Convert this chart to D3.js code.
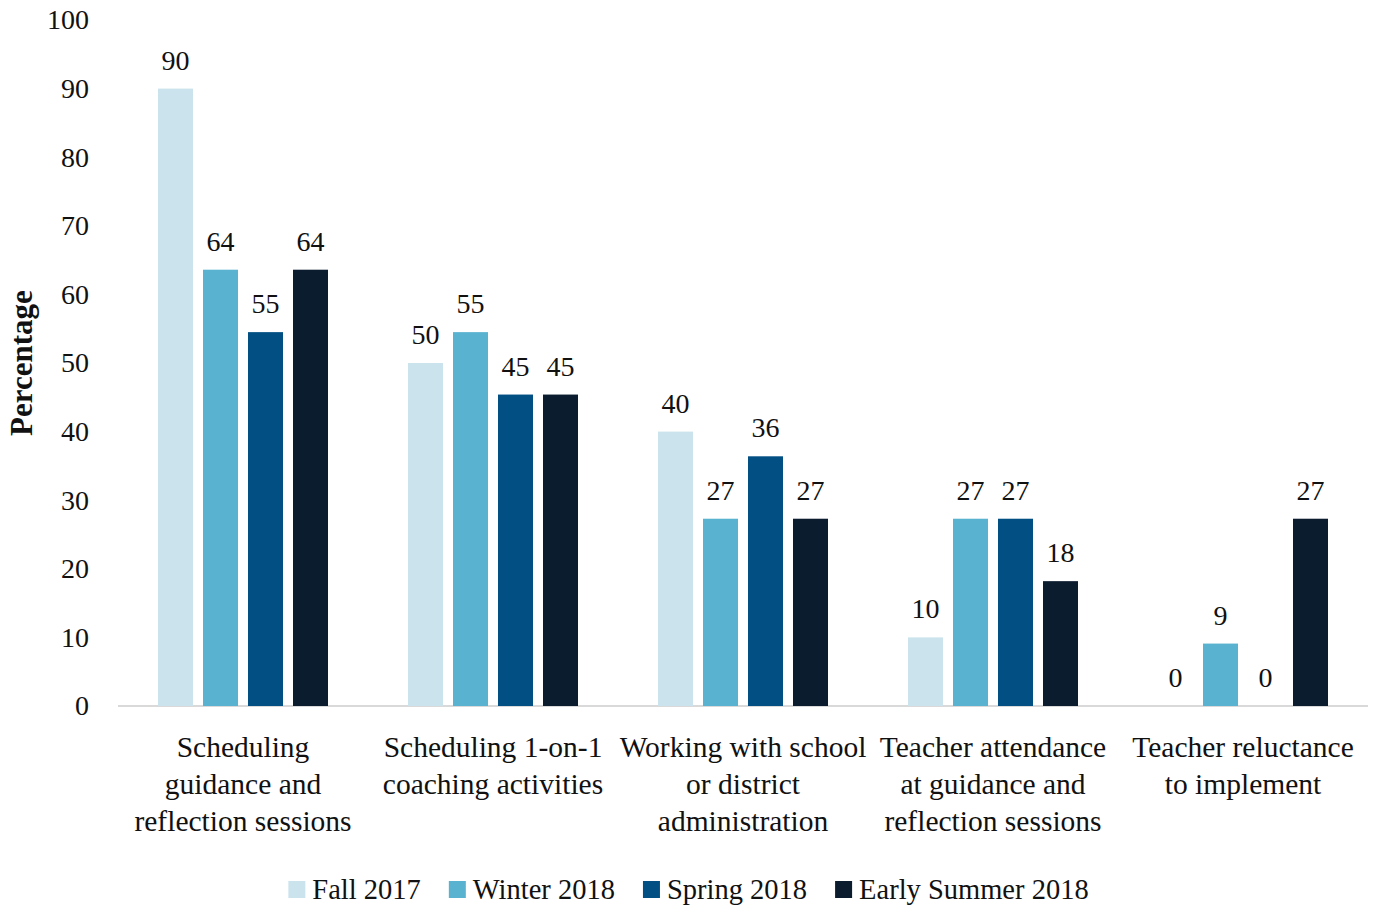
<!DOCTYPE html>
<html>
<head>
<meta charset="utf-8">
<script src="https://cdn.jsdelivr.net/npm/d3@7"></script>
<style>
  body { margin: 0; background: #fff; }
  svg text { font-family: "Liberation Serif", "DejaVu Serif", serif; fill: #111; }
</style>
</head>
<body>
<svg width="1377" height="906"></svg>
<script>
// chart data (bar heights; labels are rounded)
const categories = [
  ["Scheduling", "guidance and", "reflection sessions"],
  ["Scheduling 1-on-1", "coaching activities"],
  ["Working with school", "or district", "administration"],
  ["Teacher attendance", "at guidance and", "reflection sessions"],
  ["Teacher reluctance", "to implement"]
];
const seriesNames = ["Fall 2017", "Winter 2018", "Spring 2018", "Early Summer 2018"];
const fall2017 = [90, 50, 40, 10, 0];
const winter2018 = [63.6, 54.5, 27.3, 27.3, 9.1];
const spring2018 = [54.5, 45.4, 36.4, 27.3, 0];
const earlySummer2018 = [63.6, 45.4, 27.3, 18.2, 27.3];
const yTicks = [0, 10, 20, 30, 40, 50, 60, 70, 80, 90, 100];
const colors = ["#cae3ec", "#59b2cf", "#024f84", "#0b1c2f"];

const seriesValues = [fall2017, winter2018, spring2018, earlySummer2018];
const fmt = d3.format(".0f");

const svg = d3.select("svg");
const plotLeft = 118, plotRight = 1368, plotTop = 20, plotBottom = 706;

// scales
const x0 = d3.scaleBand()
  .domain(d3.range(categories.length))
  .range([plotLeft, plotRight]);

const x1 = d3.scaleBand()
  .domain(d3.range(seriesNames.length))
  .range([-85, 85])
  .paddingInner(10 / 45);

const y = d3.scaleLinear().domain([0, 100]).range([plotBottom, plotTop]);

// y axis labels (no line)
const yAxis = svg.append("g")
  .attr("transform", `translate(${plotLeft},0)`)
  .call(d3.axisLeft(y).tickValues(yTicks).tickSize(0).tickPadding(29));
yAxis.select(".domain").remove();
yAxis.selectAll("text")
  .style("font-size", "28px")
  .style("font-family", "Liberation Serif, serif")
  .attr("fill", "#111");

// baseline
svg.append("line")
  .attr("x1", plotLeft).attr("x2", plotRight)
  .attr("y1", y(0)).attr("y2", y(0))
  .attr("stroke", "#d9d9d9").attr("stroke-width", 2);

// bars
const groups = svg.selectAll(".grp")
  .data(categories)
  .join("g")
  .attr("class", "grp")
  .attr("transform", (d, i) => `translate(${x0(i) + x0.bandwidth() / 2},0)`);

groups.each(function(cat, ci) {
  const g = d3.select(this);
  seriesValues.forEach((vals, si) => {
    const v = vals[ci];
    g.append("rect")
      .attr("x", x1(si))
      .attr("width", x1.bandwidth())
      .attr("y", y(v))
      .attr("height", y(0) - y(v))
      .attr("fill", colors[si]);
    g.append("text")
      .attr("x", x1(si) + x1.bandwidth() / 2)
      .attr("y", y(v) - 19)
      .attr("text-anchor", "middle")
      .style("font-size", "28px")
      .text(fmt(v));
  });

  // category label
  const t = g.append("text")
    .attr("text-anchor", "middle")
    .attr("y", 757)
    .style("font-size", "29.5px");
  cat.forEach((line, li) => {
    t.append("tspan").attr("x", 0).attr("dy", li === 0 ? 0 : 37).text(line);
  });
});

// y axis title
svg.append("text")
  .attr("transform", "translate(32,363) rotate(-90)")
  .attr("text-anchor", "middle")
  .style("font-size", "31px")
  .style("font-weight", "bold")
  .text("Percentage");

// legend
const legend = svg.append("g").attr("class", "legend");
let lx = 0;
seriesNames.forEach((name, i) => {
  const item = legend.append("g").attr("transform", `translate(${lx},0)`);
  item.append("rect")
    .attr("x", 0).attr("y", 881)
    .attr("width", 17).attr("height", 17)
    .attr("fill", colors[i]);
  const t = item.append("text")
    .attr("x", 24).attr("y", 899)
    .style("font-size", "28.5px")
    .text(name);
  lx += 24 + t.node().getComputedTextLength() + 28;
});
const legendWidth = lx - 28;
legend.attr("transform", `translate(${1377 / 2 - legendWidth / 2},0)`);
</script>
</body>
</html>
